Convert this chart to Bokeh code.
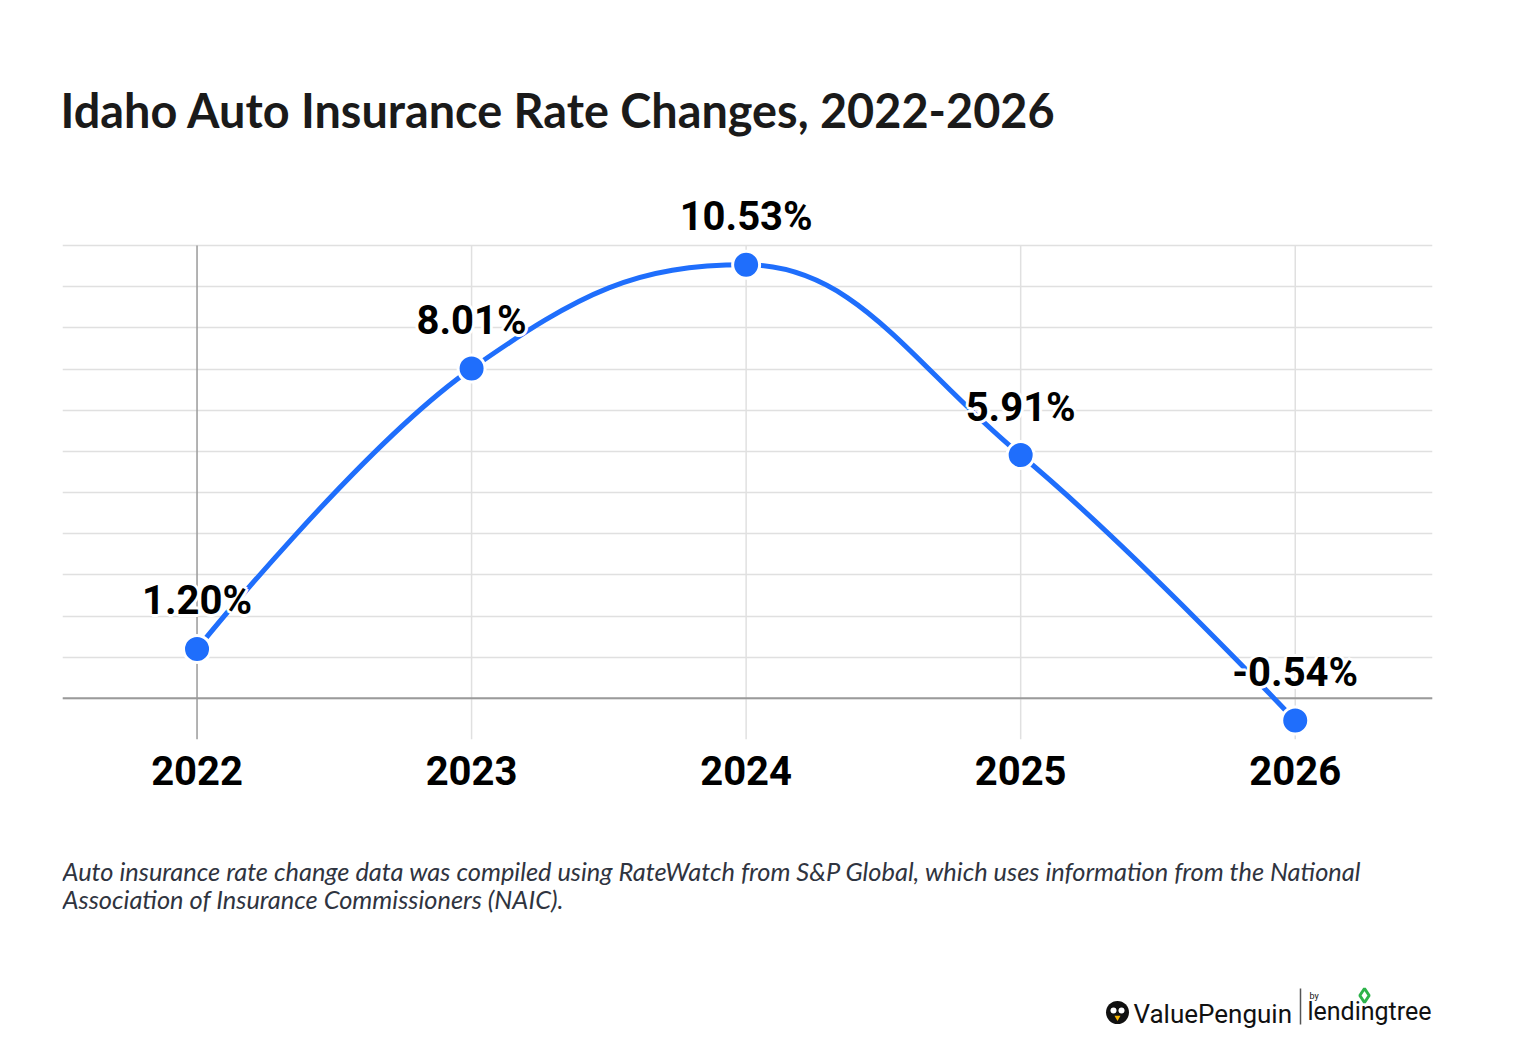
from bokeh.plotting import figure
from bokeh.layouts import column
from bokeh.models import Range1d, FixedTicker, Label, ColumnDataSource
from bokeh.core.properties import value
from bokeh.embed import file_html
from bokeh.resources import INLINE

years = [2022, 2023, 2024, 2025, 2026]
rates = [1.20, 8.01, 10.53, 5.91, -0.54]
rate_labels = ["1.20%", "8.01%", "10.53%", "5.91%", "-0.54%"]
y_ticks = list(range(-1, 12))
title_text = "Idaho Auto Insurance Rate Changes, 2022-2026"
note_lines = [
    "Auto insurance rate change data was compiled using RateWatch from S&P Global, which uses information from the National",
    "Association of Insurance Commissioners (NAIC).",
]

BLUE = "#1f6efc"
W = 1520
FL, FR, FT, FB = 62, 1432, 245, 739      # plot area on the page (px)
CHART_H = 800
FOOT_H = 1044 - CHART_H

unit = (FB - FT) / (y_ticks[-1] - y_ticks[0])
y_top = y_ticks[0] + FB / unit
x0r, x1r = 2021.51, 2026.5


def py_to_y(py):
    return y_ticks[0] + (FB - py) / unit


def spline_segments(xs, ys, smoothing=1.5):
    n = len(xs)
    left = [None] * n
    right = [None] * n
    denom = smoothing + 1
    for i in range(1, n - 1):
        px, py = xs[i], ys[i]
        lx, ly = xs[i - 1], ys[i - 1]
        nx, ny = xs[i + 1], ys[i + 1]
        lcx = (smoothing * px + lx) / denom
        lcy = (smoothing * py + ly) / denom
        rcx = (smoothing * px + nx) / denom
        rcy = (smoothing * py + ny) / denom
        corr = ((rcy - lcy) * (rcx - px)) / (rcx - lcx) + py - rcy
        lcy += corr
        rcy += corr
        if lcy > ly and lcy > py:
            lcy = max(ly, py); rcy = 2 * py - lcy
        elif lcy < ly and lcy < py:
            lcy = min(ly, py); rcy = 2 * py - lcy
        if rcy > ny and rcy > py:
            rcy = max(ny, py); lcy = 2 * py - rcy
        elif rcy < ny and rcy < py:
            rcy = min(ny, py); lcy = 2 * py - rcy
        left[i] = (lcx, lcy)
        right[i] = (rcx, rcy)
    seg = dict(x0=[], y0=[], x1=[], y1=[], cx0=[], cy0=[], cx1=[], cy1=[])
    for i in range(1, n):
        c0 = right[i - 1] or (xs[i - 1], ys[i - 1])
        c1 = left[i] or (xs[i], ys[i])
        seg["x0"].append(xs[i - 1]); seg["y0"].append(ys[i - 1])
        seg["x1"].append(xs[i]); seg["y1"].append(ys[i])
        seg["cx0"].append(c0[0]); seg["cy0"].append(c0[1])
        seg["cx1"].append(c1[0]); seg["cy1"].append(c1[1])
    return seg


p = figure(width=W, height=CHART_H, output_backend="svg", toolbar_location=None,
           x_range=Range1d(x0r, x1r), y_range=Range1d(y_ticks[0], y_top),
           min_border_left=FL, min_border_right=W - FR,
           min_border_top=0, min_border_bottom=CHART_H - FB)
p.outline_line_color = None
p.background_fill_color = "white"
p.border_fill_color = "white"

p.yaxis.visible = False
p.ygrid.ticker = FixedTicker(ticks=y_ticks)
p.ygrid.grid_line_color = "#e0e0e0"
p.ygrid.grid_line_width = 1.5
p.xgrid.visible = False

ax = p.xaxis[0]
ax.ticker = FixedTicker(ticks=years)
ax.axis_line_color = None
ax.major_tick_line_color = None
ax.minor_tick_line_color = None
ax.major_label_text_font = "Roboto"
ax.major_label_text_font_style = "bold"
ax.major_label_text_font_size = "40px"
ax.major_label_text_color = "#000000"
ax.major_label_standoff = 10

vg = ColumnDataSource(dict(x=years, y0=[y_ticks[0]] * len(years), y1=[y_ticks[-1]] * len(years),
                           c=["#9a9a9a"] + ["#e0e0e0"] * (len(years) - 1)))
p.segment(x0="x", y0="y0", x1="x", y1="y1", source=vg, line_color="c", line_width=1.5)
p.segment(x0=[x0r], y0=[0], x1=[x1r], y1=[0], line_color="#9a9a9a", line_width=2)

seg = spline_segments(years, rates)
p.bezier(x0="x0", y0="y0", x1="x1", y1="y1", cx0="cx0", cy0="cy0", cx1="cx1", cy1="cy1",
         source=ColumnDataSource(seg), line_color=BLUE, line_width=5)

src = ColumnDataSource(dict(x=years, y=rates, t=rate_labels))
p.scatter("x", "y", source=src, size=27, fill_color=BLUE, line_color="white", line_width=3)

for dx, dy in [(-3, 0), (3, 0), (0, -3), (0, 3), (-2, -2), (2, -2), (-2, 2), (2, 2)]:
    p.text("x", "y", text="t", source=src, text_font=value("Roboto"), text_font_style="bold",
           text_font_size="40px", text_color="white", text_align="center",
           text_baseline="middle", x_offset=dx, y_offset=-48 + dy)
p.text("x", "y", text="t", source=src, text_font=value("Roboto"), text_font_style="bold",
       text_font_size="40px", text_color="#000000", text_align="center",
       text_baseline="middle", y_offset=-48)

p.add_layout(Label(x=x0r, y=py_to_y(109), text=title_text, text_font="Lato",
                   text_font_style="bold", text_font_size="46.8px", text_color="#1a1a1a",
                   text_align="left", text_baseline="middle", x_offset=-2))

# footer: a second figure whose frame is aligned with the chart frame; data = page px
f = figure(width=W, height=FOOT_H, output_backend="svg", toolbar_location=None,
           x_range=Range1d(FL, FR), y_range=Range1d(1044, CHART_H),
           min_border_left=FL, min_border_right=W - FR, min_border_top=0, min_border_bottom=0,
           x_axis_type=None, y_axis_type=None)
f.outline_line_color = None
f.grid.visible = False
f.background_fill_color = "white"
f.border_fill_color = "white"

f.text(x=[62, 62], y=[870, 898], text=note_lines, text_font=value("Lato"),
       text_font_style="italic", text_font_size="25.4px", text_color="#2f3440",
       text_baseline="middle")
f.text(x=[1133], y=[1013], text=["ValuePenguin"], text_font=value("Roboto"),
       text_font_size="26px", text_color="#111111", text_baseline="middle")
f.text(x=[1309], y=[995], text=["by"], text_font=value("Roboto"),
       text_font_size="9px", text_color="#111111", text_baseline="middle")
f.text(x=[1431], y=[1011], text=["lendingtree"], text_font=value("Roboto"),
       text_font_size="25px", text_color="#111111", text_baseline="middle", text_align="right")
f.scatter(x=[1117], y=[1012], size=23, fill_color="#111111", line_color=None)
f.scatter(x=[1113, 1121], y=[1010, 1010], size=6, fill_color="white", line_color=None)
f.scatter(x=[1117], y=[1017], size=6, marker="triangle", angle=3.14159,
          fill_color="#f5b400", line_color=None)
f.segment(x0=[1300], y0=[988], x1=[1300], y1=[1024], line_color="#555555", line_width=1.5)
f.scatter(x=[1364], y=[995], size=14, marker="diamond", fill_color=None,
          line_color="#2db34a", line_width=3)

page = column(p, f, spacing=0)
open("out.html", "w").write(file_html(page, INLINE))
